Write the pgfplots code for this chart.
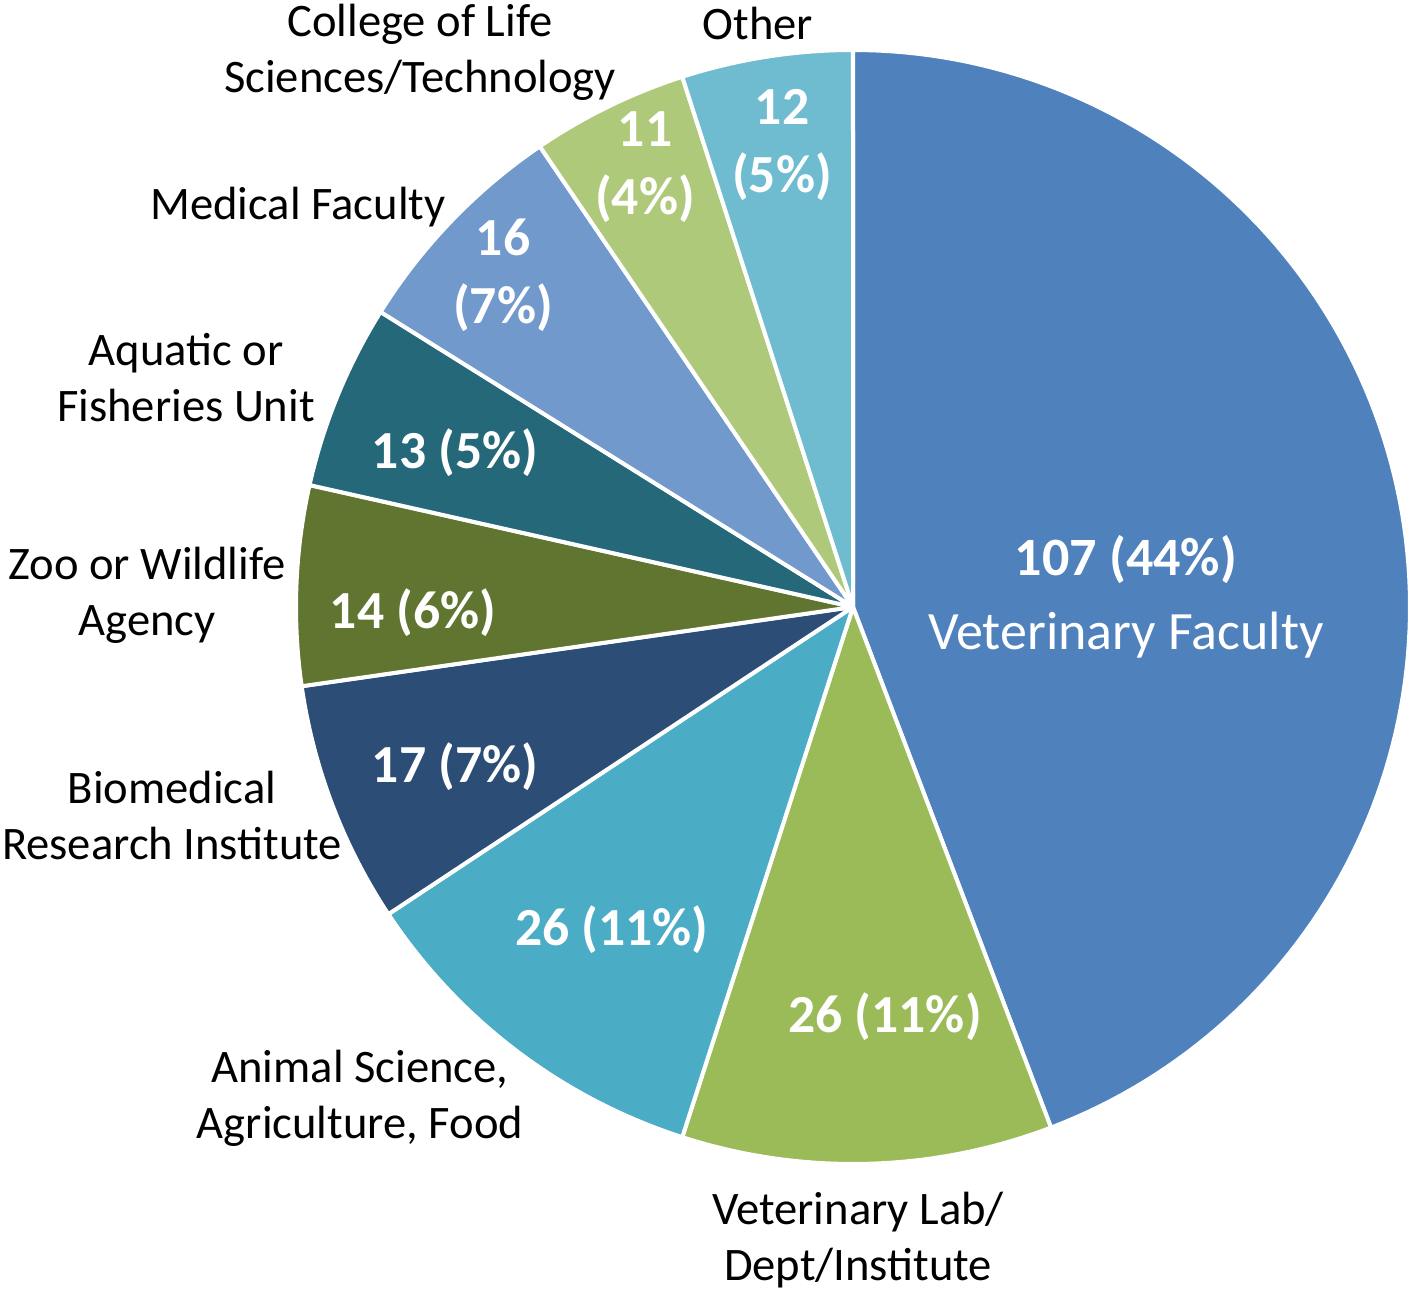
\documentclass[border=0pt]{standalone}
\usepackage{pgfplots}
\pgfplotsset{compat=1.18}
\usepackage{fontspec}
\setmainfont{Carlito}
\definecolor{cVF}{HTML}{4F81BD}
\definecolor{cVL}{HTML}{9BBB59}
\definecolor{cAS}{HTML}{4BACC6}
\definecolor{cBM}{HTML}{2C4D75}
\definecolor{cZO}{HTML}{5F7530}
\definecolor{cAQ}{HTML}{246879}
\definecolor{cMF}{HTML}{7299CB}
\definecolor{cCL}{HTML}{AFC97A}
\definecolor{cOT}{HTML}{6FBCD1}
% values (clockwise from top)
\def\vVF{107}\def\vVL{26}\def\vAS{26}\def\vBM{17}\def\vZO{14}\def\vAQ{13}\def\vMF{16}\def\vCL{11}\def\vOT{12}
\pgfmathsetmacro\total{\vVF+\vVL+\vAS+\vBM+\vZO+\vAQ+\vMF+\vCL+\vOT}
\pgfmathsetmacro\unit{360/\total}
\pgfmathsetmacro\aA{90}
\pgfmathsetmacro\aB{\aA-\unit*\vVF}
\pgfmathsetmacro\aC{\aB-\unit*\vVL}
\pgfmathsetmacro\aD{\aC-\unit*\vAS}
\pgfmathsetmacro\aE{\aD-\unit*\vBM}
\pgfmathsetmacro\aF{\aE-\unit*\vZO}
\pgfmathsetmacro\aG{\aF-\unit*\vAQ}
\pgfmathsetmacro\aH{\aG-\unit*\vMF}
\pgfmathsetmacro\aI{\aH-\unit*\vCL}
\pgfmathsetmacro\aJ{\aI-\unit*\vOT}
\def\cx{853}\def\cy{-607}\def\rr{557}
\begin{document}
\begin{tikzpicture}[
  lbl/.style={font=\fontsize{23.3}{28}\selectfont, align=center, text=black, inner sep=0pt},
  num/.style={font=\fontsize{26.8}{34}\selectfont\bfseries, align=center, text=white, inner sep=0pt},
]
\begin{axis}[
  scale only axis, width=708pt, height=646.5pt,
  xmin=0, xmax=1416, ymin=-1293, ymax=0,
  hide axis, clip=false,
  every axis plot/.append style={draw=white, line width=2pt, line join=round, samples=120},
]
\path (axis cs:0,0) rectangle (axis cs:1416,-1293);
\addplot[fill=cVF, domain=\aB:\aA] ({\cx+\rr*cos(x)},{\cy+\rr*sin(x)}) -- (axis cs:\cx,\cy) -- cycle;
\addplot[fill=cVL, domain=\aC:\aB] ({\cx+\rr*cos(x)},{\cy+\rr*sin(x)}) -- (axis cs:\cx,\cy) -- cycle;
\addplot[fill=cAS, domain=\aD:\aC] ({\cx+\rr*cos(x)},{\cy+\rr*sin(x)}) -- (axis cs:\cx,\cy) -- cycle;
\addplot[fill=cBM, domain=\aE:\aD] ({\cx+\rr*cos(x)},{\cy+\rr*sin(x)}) -- (axis cs:\cx,\cy) -- cycle;
\addplot[fill=cZO, domain=\aF:\aE] ({\cx+\rr*cos(x)},{\cy+\rr*sin(x)}) -- (axis cs:\cx,\cy) -- cycle;
\addplot[fill=cAQ, domain=\aG:\aF] ({\cx+\rr*cos(x)},{\cy+\rr*sin(x)}) -- (axis cs:\cx,\cy) -- cycle;
\addplot[fill=cMF, domain=\aH:\aG] ({\cx+\rr*cos(x)},{\cy+\rr*sin(x)}) -- (axis cs:\cx,\cy) -- cycle;
\addplot[fill=cCL, domain=\aI:\aH] ({\cx+\rr*cos(x)},{\cy+\rr*sin(x)}) -- (axis cs:\cx,\cy) -- cycle;
\addplot[fill=cOT, domain=\aJ:\aI] ({\cx+\rr*cos(x)},{\cy+\rr*sin(x)}) -- (axis cs:\cx,\cy) -- cycle;
% in-slice labels
\node[num, font=\fontsize{27}{37}\selectfont] at (axis cs:1126,-597) {\textbf{107 (44\%)}\\Veterinary Faculty};
\node[num] at (axis cs:885,-1017) {26 (11\%)};
\node[num] at (axis cs:612,-930) {26 (11\%)};
\node[num] at (axis cs:455,-767) {17 (7\%)};
\node[num] at (axis cs:413,-613) {14 (6\%)};
\node[num] at (axis cs:455,-453) {13 (5\%)};
\node[num] at (axis cs:503,-275) {16\\(7\%)};
\node[num] at (axis cs:645,-167) {11\\(4\%)};
\node[num] at (axis cs:782,-145) {12\\(5\%)};
% outside labels
\node[lbl] at (axis cs:420,-52) {College of Life\\Sciences/Technology};
\node[lbl] at (axis cs:758,-24) {Other};
\node[lbl] at (axis cs:298,-207) {Medical Faculty};
\node[lbl] at (axis cs:186,-378) {Aquatic or\\Fisheries Unit};
\node[lbl] at (axis cs:147,-595) {Zoo or Wildlife\\Agency};
\node[lbl] at (axis cs:172,-816) {Biomedical\\Research Institute};
\node[lbl] at (axis cs:360,-1098) {Animal Science,\\Agriculture, Food};
\node[lbl] at (axis cs:858,-1240) {Veterinary Lab/\\Dept/Institute};
\end{axis}
\end{tikzpicture}
\end{document}
